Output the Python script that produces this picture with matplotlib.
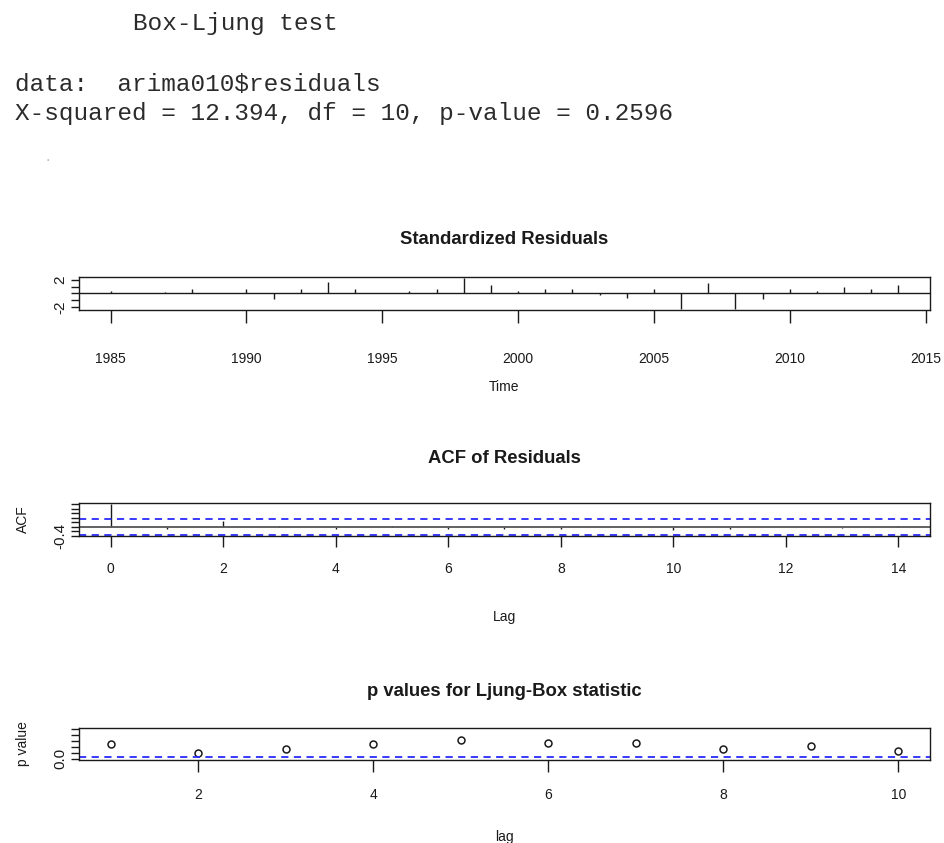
import matplotlib
matplotlib.use("Agg")
import matplotlib.pyplot as plt
import numpy as np

# Box-Ljung summary printed above the diagnostics
HEADER_TITLE = "Box-Ljung test"
HEADER_DATA = "data:  arima010$residuals"
HEADER_STAT = "X-squared = 12.394, df = 10, p-value = 0.2596"

# standardized residuals, one per year
years = np.arange(1985, 2015)
std_resid = [0.33, 0.05, 0.24, 0.57, 0.05, 0.71, -0.81, 0.57, 1.67, 0.71,
             0.05, 0.33, 0.57, 2.24, 1.19, 0.33, 0.57, 0.57, -0.30, -0.75,
             0.71, -2.30, 1.57, -2.30, -0.86, 0.57, 0.33, 0.95, 0.71, 1.29]

# ACF of residuals
acf_lags = np.arange(0, 15)
acf_vals = [1.0, -0.09, 0.25, 0.03, -0.08, 0.03, -0.10, -0.08, -0.12, 0.0,
            -0.15, -0.08, 0.0, -0.04, 0.04]
acf_clim = 0.358

# Ljung-Box p values
lb_lags = np.arange(1, 11)
lb_pvals = [0.49, 0.19, 0.32, 0.49, 0.62, 0.53, 0.55, 0.32, 0.44, 0.26]

SANS = ["Liberation Sans", "DejaVu Sans"]
MONO = ["Liberation Mono", "DejaVu Sans Mono"]
INK = "#1a1a1a"
BLUE = "#2a2aff"


def r_range(lo, hi):
    pad = 0.04 * (hi - lo)
    return lo - pad, hi + pad


def style_panel(ax, xtick_pad, xtick_len):
    for sp in ax.spines.values():
        sp.set_color(INK)
        sp.set_linewidth(1.0)
    ax.tick_params(axis="x", direction="out", length=xtick_len, width=1.0,
                   pad=xtick_pad, labelsize=10, colors=INK)
    ax.tick_params(axis="y", direction="out", length=5.5, width=1.0,
                   pad=3, labelsize=11, colors=INK, labelrotation=90)
    for lab in ax.get_xticklabels() + ax.get_yticklabels():
        lab.set_family(SANS)
    for lab in ax.get_yticklabels():
        lab.set_va("center")


fig = plt.figure(figsize=(9.45, 8.43), dpi=100)

fig.text(133 / 945, 1 - 30 / 843, HEADER_TITLE, family=MONO, fontsize=17.6,
         color="#2b2b2b", va="baseline")
fig.text(15 / 945, 1 - 91 / 843, HEADER_DATA, family=MONO, fontsize=17.6,
         color="#2b2b2b", va="baseline")
fig.text(15 / 945, 1 - 120 / 843, HEADER_STAT, family=MONO, fontsize=17.6,
         color="#2b2b2b", va="baseline")
fig.text(48 / 945, 1 - 157 / 843, ".", fontsize=10, color="#b0b0b0",
         ha="center", va="center")

left, width = 79 / 945, 851 / 945

# Standardized residuals
ax1 = fig.add_axes([left, 1 - 310 / 843, width, 33 / 843])
ax1.vlines(years, 0, std_resid, color=INK, lw=1.0)
ax1.axhline(0, color=INK, lw=1.0)
ax1.set_xlim(*r_range(years.min(), years.max()))
ax1.set_ylim(*r_range(min(std_resid), max(std_resid)))
ax1.set_xticks(np.arange(1985, 2016, 5))
ax1.set_yticks([-2, -1, 0, 1, 2])
ax1.set_yticklabels(["-2", "", "", "", "2"])
style_panel(ax1, xtick_pad=21, xtick_len=9.5)
ax1.set_title("Standardized Residuals", family=SANS, fontsize=13.3,
              fontweight="bold", color=INK, pad=24)
ax1.set_xlabel("Time", family=SANS, fontsize=10, color=INK, labelpad=10)

# ACF of residuals
ax2 = fig.add_axes([left, 1 - 536 / 843, width, 33 / 843])
ax2.vlines(acf_lags, 0, acf_vals, color=INK, lw=1.0)
ax2.axhline(0, color="#555555", lw=1.3)
ax2.axhline(acf_clim, color=BLUE, lw=1.3, ls=(0, (4, 3)))
ax2.axhline(-acf_clim, color=BLUE, lw=1.3, ls=(0, (4, 3)))
ax2.set_xlim(*r_range(acf_lags.min(), acf_lags.max()))
ax2.set_ylim(*r_range(-acf_clim, max(acf_vals)))
ax2.set_xticks(np.arange(0, 15, 2))
ax2.set_yticks(np.round(np.arange(-0.4, 1.01, 0.2), 1))
ax2.set_yticklabels(["-0.4"] + [""] * 7)
style_panel(ax2, xtick_pad=11, xtick_len=8)
ax2.set_title("ACF of Residuals", family=SANS, fontsize=13.3,
              fontweight="bold", color=INK, pad=29)
ax2.set_xlabel("Lag", family=SANS, fontsize=10, color=INK, labelpad=24)
ax2.set_ylabel("ACF", family=SANS, fontsize=10, color=INK, labelpad=17)

# p values for Ljung-Box statistic
ax3 = fig.add_axes([left, 1 - 760 / 843, width, 32 / 843])
ax3.plot(lb_lags, lb_pvals, "o", mfc="none", mec=INK, ms=5, mew=1.1)
ax3.axhline(0.05, color=BLUE, lw=1.3, ls=(0, (4, 3)))
ax3.set_xlim(*r_range(lb_lags.min(), lb_lags.max()))
ax3.set_ylim(*r_range(0, 1))
ax3.set_xticks(np.arange(2, 11, 2))
ax3.set_yticks(np.round(np.arange(0, 1.01, 0.2), 1))
ax3.set_yticklabels(["0.0"] + [""] * 5)
style_panel(ax3, xtick_pad=12, xtick_len=8.5)
ax3.set_title("p values for Ljung-Box statistic", family=SANS, fontsize=13.3,
              fontweight="bold", color=INK, pad=23)
ax3.set_xlabel("lag", family=SANS, fontsize=10, color=INK, labelpad=20)
ax3.set_ylabel("p value", family=SANS, fontsize=10, color=INK, labelpad=17)

fig.savefig("out.png", dpi=100)
